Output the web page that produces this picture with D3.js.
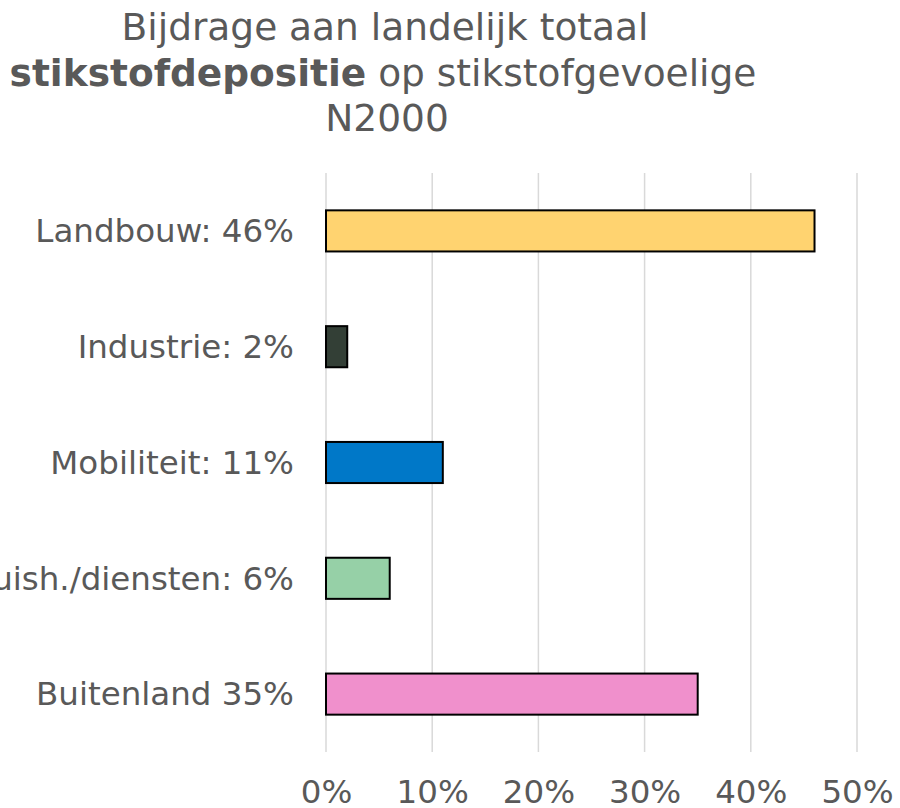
<!DOCTYPE html>
<html>
<head>
<meta charset="utf-8">
<script src="https://cdn.jsdelivr.net/npm/d3@7"></script>
<style>
  body { margin: 0; background: #fff; }
  svg { display: block; }
  .title { font-family: "DejaVu Sans", Verdana, sans-serif; font-size: 37.5px; fill: #595959; }
  .axis text { font-family: "DejaVu Sans", Verdana, sans-serif; font-size: 32.5px; fill: #595959; }
  .grid line { stroke: #d9d9d9; stroke-width: 1.5; }
</style>
</head>
<body>
<div id="chart"></div>
<script>
const categories = ["Landbouw: 46%", "Industrie: 2%", "Mobiliteit: 11%", "Huish./diensten: 6%", "Buitenland 35%"];
const values = [46, 2, 11, 6, 35];
const colors = ["#ffd370", "#333f36", "#0078c8", "#96d0a7", "#f090cc"];
const tickValues = [0, 10, 20, 30, 40, 50];

const width = 900;
const height = 808;
const margin = { top: 173, right: 43, bottom: 56, left: 326 };

const svg = d3.select("#chart")
  .append("svg")
  .attr("width", width)
  .attr("height", height);

// title, three lines, second line partly bold
const title = svg.append("text")
  .attr("class", "title")
  .attr("text-anchor", "middle");
title.append("tspan").attr("x", 385).attr("y", 40).text("Bijdrage aan landelijk totaal");
const line2 = title.append("tspan").attr("x", 383).attr("y", 86);
line2.append("tspan").attr("font-weight", "bold").text("stikstofdepositie");
line2.append("tspan").text(" op stikstofgevoelige");
title.append("tspan").attr("x", 387).attr("y", 131).text("N2000");

const g = svg.append("g")
  .attr("transform", `translate(${margin.left},${margin.top})`);

const x = d3.scaleLinear()
  .domain([0, 50])
  .range([0, 531]);

const y = d3.scaleBand()
  .domain(categories)
  .range([0, 579])
  .paddingInner(0.645)
  .paddingOuter(0.3225);

g.append("g")
  .attr("class", "grid")
  .selectAll("line")
  .data(tickValues)
  .join("line")
  .attr("x1", d => x(d))
  .attr("x2", d => x(d))
  .attr("y1", 0)
  .attr("y2", 579);

g.selectAll("rect.bar")
  .data(values)
  .join("rect")
  .attr("class", "bar")
  .attr("x", x(0))
  .attr("y", (d, i) => y(categories[i]))
  .attr("width", d => x(d) - x(0))
  .attr("height", y.bandwidth())
  .attr("fill", (d, i) => colors[i])
  .attr("stroke", "#000")
  .attr("stroke-width", 2);

const yAxis = g.append("g")
  .attr("class", "axis")
  .call(d3.axisLeft(y).tickSize(0).tickPadding(32));
yAxis.select(".domain").remove();
yAxis.selectAll("text").attr("dy", "0.35em");

const xAxis = g.append("g")
  .attr("class", "axis")
  .attr("transform", `translate(0,${579})`)
  .call(d3.axisBottom(x).tickValues(tickValues).tickFormat(d => d + "%").tickSize(0).tickPadding(28));
xAxis.select(".domain").remove();
</script>
</body>
</html>
